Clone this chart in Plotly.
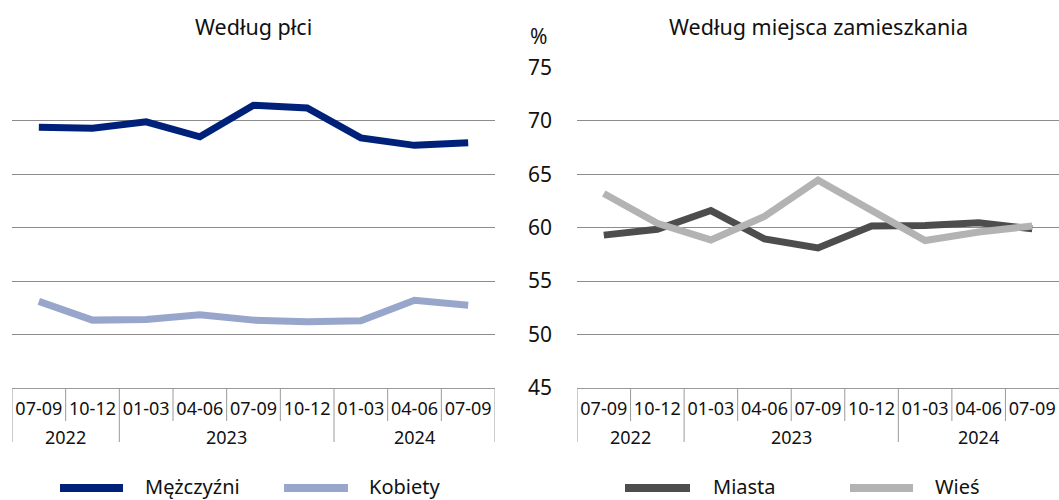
import plotly.graph_objects as go

quarters = ["07-09", "10-12", "01-03", "04-06", "07-09", "10-12", "01-03", "04-06", "07-09"]
years = ["2022", "2022", "2023", "2023", "2023", "2023", "2024", "2024", "2024"]

men = [69.4, 69.3, 69.9, 68.5, 71.45, 71.2, 68.4, 67.7, 67.95]
women = [53.1, 51.35, 51.4, 51.85, 51.35, 51.2, 51.3, 53.2, 52.75]
cities = [59.3, 59.85, 61.6, 58.95, 58.1, 60.15, 60.2, 60.45, 59.9]
rural = [63.2, 60.4, 58.85, 61.05, 64.45, 61.6, 58.8, 59.6, 60.15]

yticks = [45, 50, 55, 60, 65, 70, 75]
titles = ["Według płci", "Według miejsca zamieszkania"]
names = [["Mężczyźni", "Kobiety"], ["Miasta", "Wieś"]]
colors = [["#00217a", "#99a6cb"], ["#4d4d4d", "#b3b3b3"]]
series = [[men, women], [cities, rural]]

W, H = 1059, 500
TOP, BOT = 67, 388  # plot area pixel rows
FONT = "Noto Sans"
GRID = "#8c8c8c"
SEP = "#9a9a9a"

def py(pix):
    return (BOT - pix) / (BOT - TOP)

def px(pix):
    return pix / W

panels = [(12, 495), (577, 1059)]
xidx = list(range(len(quarters)))

fig = go.Figure()
for p in range(2):
    for s in range(2):
        fig.add_trace(go.Scatter(
            x=xidx, y=series[p][s], mode="lines", name=names[p][s],
            line=dict(color=colors[p][s], width=7),
            xaxis="x" if p == 0 else "x2", yaxis="y" if p == 0 else "y2",
            showlegend=False, hoverinfo="name+y"))

common_x = dict(range=[-0.5, len(quarters) - 0.5], tickvals=xidx, ticktext=quarters,
                showgrid=False, zeroline=False, showline=True, linecolor=SEP, linewidth=1,
                ticks="", tickfont=dict(family=FONT, size=18, color="#111"),
                ticklabelstandoff=4, fixedrange=True)
common_y = dict(range=[45, 75.03], tickvals=yticks, showgrid=True, gridcolor=GRID, gridwidth=1,
                zeroline=False, showline=False, ticks="", fixedrange=True,
                tickfont=dict(family=FONT, size=21, color="#111"))

fig.update_layout(
    width=W, height=H, margin=dict(l=0, r=0, t=TOP, b=H - BOT),
    paper_bgcolor="white", plot_bgcolor="white",
    xaxis=dict(domain=[px(panels[0][0]), px(panels[0][1])], anchor="y", **common_x),
    xaxis2=dict(domain=[px(panels[1][0]), px(panels[1][1])], anchor="y2", **common_x),
    yaxis=dict(anchor="x", showticklabels=False, **common_y),
    yaxis2=dict(anchor="x2", showticklabels=True, side="left", ticklabelstandoff=24, **common_y),
    font=dict(family=FONT, color="#111"),
)

shapes = []
annotations = []
# category boxes
year_bounds = [i for i in range(1, len(years)) if years[i] != years[i - 1]]
for p in range(2):
    xr = "x" if p == 0 else "x2"
    last = len(quarters) if p == 0 else len(quarters) - 1
    for b in range(last + 1):
        full = b == 0 or b == len(quarters) or b in year_bounds
        shapes.append(dict(type="line", xref=xr, yref="paper", x0=b - 0.5, x1=b - 0.5,
                           y0=0, y1=py(442 if full else 421), line=dict(color=SEP, width=1)))
    # year labels
    groups = {}
    for i, yv in enumerate(years):
        groups.setdefault(yv, []).append(i)
    for yv, idx in groups.items():
        annotations.append(dict(xref=xr, yref="paper", x=sum(idx) / len(idx), y=py(437),
                                text=yv, showarrow=False, xanchor="center", yanchor="middle",
                                font=dict(family=FONT, size=18, color="#111")))
    # titles
    annotations.append(dict(xref="paper", yref="paper", x=px((panels[p][0] + panels[p][1]) / 2),
                            y=py(27), text=titles[p], showarrow=False, xanchor="center",
                            yanchor="middle", font=dict(family=FONT, size=21.5, color="#111")))

annotations.append(dict(xref="paper", yref="paper", x=px(538), y=py(36), text="%",
                        showarrow=False, xanchor="center", yanchor="middle",
                        font=dict(family=FONT, size=21, color="#111")))

# legends (custom, to get long line samples)
legend_pos = [[(60, 123, 143), (284, 348, 367)], [(625, 690, 711), (850, 913, 933)]]
for p in range(2):
    for s in range(2):
        a, b, t = legend_pos[p][s]
        shapes.append(dict(type="line", xref="paper", yref="paper", x0=px(a), x1=px(b),
                           y0=py(488), y1=py(488), line=dict(color=colors[p][s], width=8)))
        annotations.append(dict(xref="paper", yref="paper", x=px(t), y=py(486),
                                text=names[p][s], showarrow=False, xanchor="left",
                                yanchor="middle", font=dict(family=FONT, size=20, color="#111")))

fig.update_layout(shapes=shapes, annotations=annotations)
fig.write_html("out.html", config={"displayModeBar": False},
               post_script="document.body.style.margin='0';document.body.style.overflow='hidden';")
